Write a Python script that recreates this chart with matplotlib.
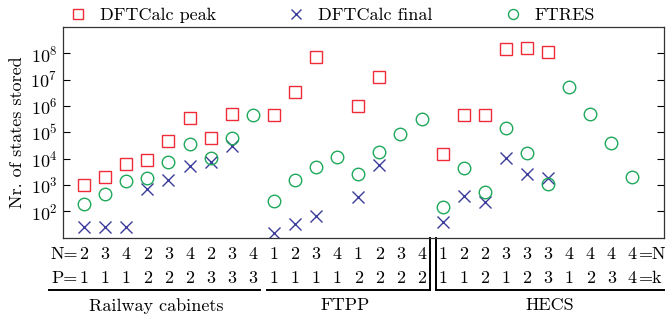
import matplotlib.pyplot as plt
import matplotlib.transforms as mtransforms
import numpy as np

plt.rcParams['font.family'] = 'serif'
plt.rcParams['font.serif'] = ['cmr10']
plt.rcParams['mathtext.fontset'] = 'cm'
plt.rcParams['axes.formatter.use_mathtext'] = True
plt.rcParams['axes.unicode_minus'] = False

# bottom table: N / P (k) values per column
n_row = [2, 3, 4, 2, 3, 4, 2, 3, 4,
         1, 2, 3, 4, 1, 2, 3, 4,
         1, 2, 2, 3, 3, 3, 4, 4, 4, 4]
p_row = [1, 1, 1, 2, 2, 2, 3, 3, 3,
         1, 1, 1, 1, 2, 2, 2, 2,
         1, 1, 2, 1, 2, 3, 1, 2, 3, 4]
groups = ['Railway cabinets', 'FTPP', 'HECS']

nan = np.nan
dft_peak = [1e3, 2e3, 6e3, 9e3, 4.8e4, 3.5e5, 6.3e4, 4.9e5, nan,
            4.5e5, 3.5e6, 7e7, nan, 9.5e5, 1.2e7, nan, nan,
            1.45e4, 4.4e5, 4.4e5, 1.4e8, 1.55e8, 1.1e8, nan, nan, nan, nan]
dft_final = [25, 25, 25, 7e2, 1.6e3, 5e3, 7.4e3, 3.1e4, nan,
             15, 34, 65, nan, 3.5e2, 5.9e3, nan, nan,
             38, 3.7e2, 2.3e2, 1.05e4, 2.6e3, 1.8e3, nan, nan, nan, nan]
ftres = [1.9e2, 4.7e2, 1.4e3, 1.9e3, 7.2e3, 3.6e4, 1.05e4, 6e4, 4.6e5,
         2.4e2, 1.5e3, 4.8e3, 1.1e4, 2.5e3, 1.8e4, 8.9e4, 3.2e5,
         1.4e2, 4.4e3, 5.4e2, 1.5e5, 1.6e4, 1.1e3, 5.1e6, 5e5, 3.9e4, 2e3]

x = np.arange(len(n_row))

fig = plt.figure(figsize=(6.67, 3.2), dpi=100)
ax = fig.add_axes([0.0945, 0.256, 0.901, 0.66])

red = '#ee2b36'
blue = '#3c3c9c'
green = '#1fa85a'

ax.plot(x, dft_peak, 's', ms=8.5, mfc='none', mec=red, mew=1.0, label='DFTCalc peak')
ax.plot(x, dft_final, 'x', ms=9, color=blue, mew=1.0, label='DFTCalc final')
ax.plot(x, ftres, 'o', ms=9, mfc='none', mec=green, mew=1.0, label='FTRES')

ax.set_yscale('log')
ax.set_ylim(10 ** 0.98, 1e9)
ax.set_xlim(-1, 27.5)
ax.set_yticks([1e2, 1e3, 1e4, 1e5, 1e6, 1e7, 1e8])
ax.yaxis.set_minor_locator(plt.NullLocator())
ax.set_xticks([])
ax.tick_params(axis='y', direction='in', right=True, length=5, labelsize=13, pad=4)
for s in ax.spines.values():
    s.set_linewidth(0.9)
    s.set_color('#333333')
ax.set_ylabel('Nr. of states stored', fontsize=13, labelpad=4)

leg = ax.legend(loc='lower left', bbox_to_anchor=(-0.02, 0.975), ncol=3, frameon=False,
                fontsize=13, handletextpad=0.2, columnspacing=3.45, markerscale=0.8,
                borderaxespad=0.1)

# table below the axes
tr = mtransforms.blended_transform_factory(ax.transData, ax.transAxes)
fs = 13
for i in x:
    ax.text(i, -0.075, str(n_row[i]), transform=tr, ha='center', va='center', fontsize=fs)
    ax.text(i, -0.19, str(p_row[i]), transform=tr, ha='center', va='center', fontsize=fs)
ax.text(-0.3, -0.075, 'N=', transform=tr, ha='right', va='center', fontsize=fs)
ax.text(-0.3, -0.19, 'P=', transform=tr, ha='right', va='center', fontsize=fs)
ax.text(26.3, -0.075, '=N', transform=tr, ha='left', va='center', fontsize=fs)
ax.text(26.3, -0.19, '=k', transform=tr, ha='left', va='center', fontsize=fs)

ly = -0.248
kw = dict(transform=tr, color='black', lw=1.4, clip_on=False)
ax.plot([-1.65, 8.35], [ly, ly], **kw)
ax.plot([8.65, 16.4], [ly, ly], **kw)
ax.plot([16.4, 16.4], [0, ly], **kw)
ax.plot([16.7, 27.5], [ly, ly], **kw)
ax.plot([16.7, 16.7], [0, ly], **kw)

ax.text(3.4, -0.32, groups[0], transform=tr, ha='center', va='center', fontsize=fs)
ax.text(12.4, -0.32, groups[1], transform=tr, ha='center', va='center', fontsize=fs)
ax.text(22.1, -0.32, groups[2], transform=tr, ha='center', va='center', fontsize=fs)

fig.savefig('out.png', dpi=100)
